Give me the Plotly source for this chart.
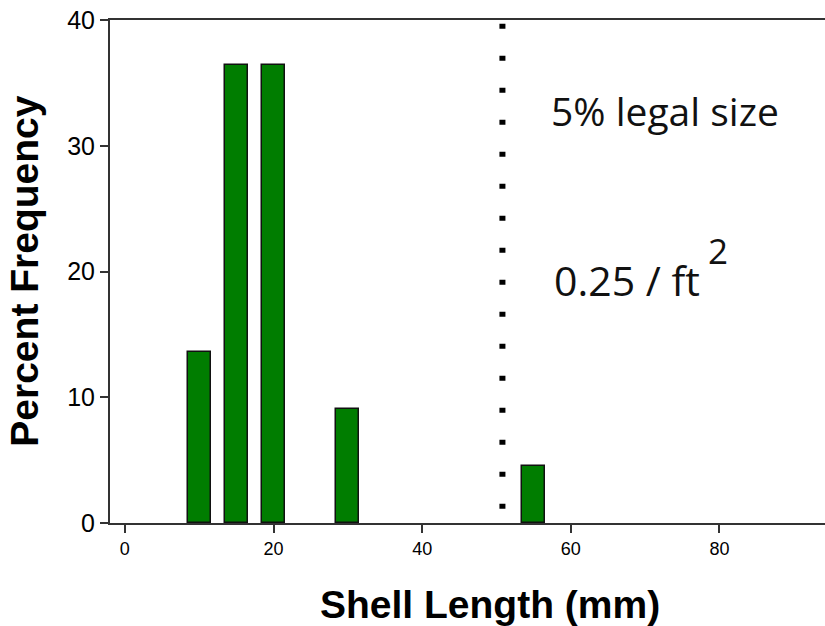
import plotly.graph_objects as go

# shell length classes (mm) and percent frequency
length_mm = [10, 15, 20, 30, 55]
pct_freq = [13.6, 36.4, 36.4, 9.1, 4.5]
legal_size_mm = 50.8
x_ticks = [0, 20, 40, 60, 80]
y_ticks = [0, 10, 20, 30, 40]

fig = go.Figure()

fig.add_trace(go.Bar(
    x=length_mm, y=pct_freq, width=3.1,
    marker=dict(color="#007d00", line=dict(color="#111111", width=1.5)),
    showlegend=False,
))

# dotted legal-size line
fig.add_trace(go.Scatter(
    x=[legal_size_mm, legal_size_mm], y=[39.7, 0],
    mode="lines",
    line=dict(color="black", width=6, dash="5px,27px"),
    showlegend=False,
))

txt_font = dict(family="'Open Sans', Lato, sans-serif", size=39, color="#111111")
fig.add_annotation(x=57.0, y=32.8, xref="x", yref="y", text="5% legal size",
                   showarrow=False, xanchor="left", yanchor="middle", font=txt_font)
fig.add_annotation(x=57.5, y=19.3, xref="x", yref="y", text="0.25 / ft",
                   showarrow=False, xanchor="left", yanchor="middle",
                   font=dict(family="'Open Sans', Lato, sans-serif", size=41, color="#111111"))
fig.add_annotation(x=78.2, y=21.7, xref="x", yref="y", text="2",
                   showarrow=False, xanchor="left", yanchor="middle",
                   font=dict(family="'Open Sans', Lato, sans-serif", size=35, color="#111111"))

# axis titles
title_font = dict(family="Liberation Sans, Arial, sans-serif", size=39, color="black")
fig.add_annotation(x=0.532, y=-0.163, xref="paper", yref="paper",
                   text="<b>Shell Length (mm)</b>", showarrow=False,
                   xanchor="center", yanchor="middle", font=title_font)
fig.add_annotation(x=-0.120, y=0.500, xref="paper", yref="paper",
                   text="<b>Percent Frequency</b>", showarrow=False, textangle=-90,
                   xanchor="center", yanchor="middle", font=title_font)

fig.update_xaxes(
    range=[-2.0, 94.2], tickvals=x_ticks, ticks="outside", ticklen=8, tickwidth=1.5,
    tickcolor="#333333", showline=True, linecolor="#333333", linewidth=2,
    mirror=True, showgrid=False, zeroline=False,
    tickfont=dict(family="Liberation Sans, Arial, sans-serif", size=18, color="black"),
)
fig.update_yaxes(
    range=[0, 40], tickvals=y_ticks, ticks="outside", ticklen=8, tickwidth=1.5,
    tickcolor="#333333", showline=True, linecolor="#333333", linewidth=2,
    showgrid=False, zeroline=False,
    tickfont=dict(family="Liberation Sans, Arial, sans-serif", size=25, color="black"),
)

fig.update_layout(
    width=825, height=626,
    margin=dict(l=110, r=0, t=20, b=103),
    paper_bgcolor="white", plot_bgcolor="white",
    bargap=0,
)

fig.write_html("out.html", config={"displayModeBar": False},
               post_script="document.body.style.margin='0px';")
